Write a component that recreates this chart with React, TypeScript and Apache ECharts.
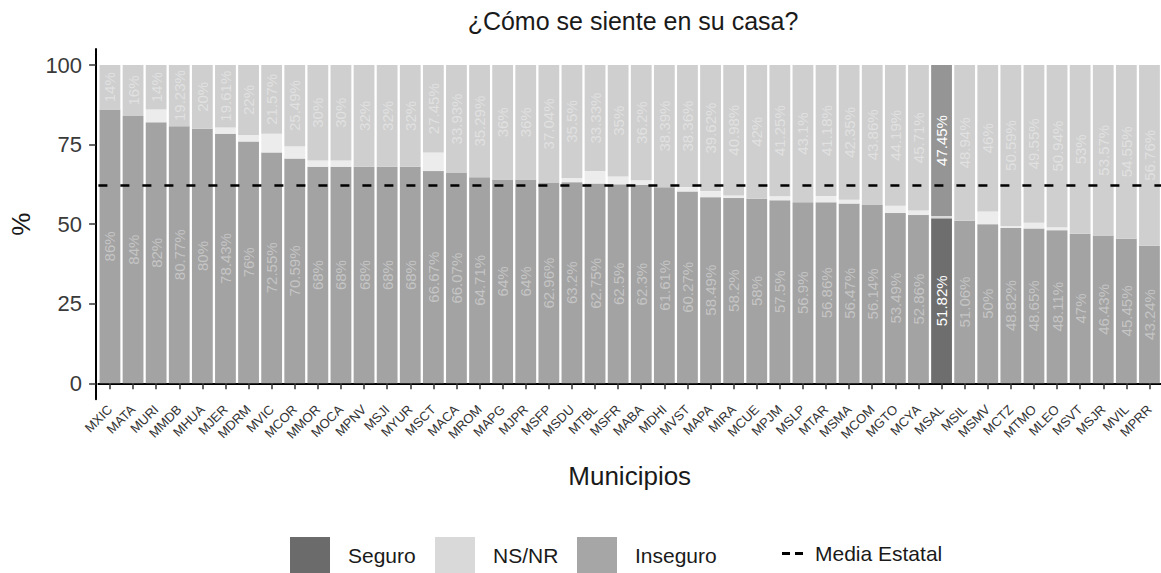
import React, { useEffect, useRef } from 'react';
import * as echarts from 'echarts';

const CATS = ['MXIC','MATA','MURI','MMDB','MHUA','MJER','MDRM','MVIC','MCOR','MMOR','MOCA','MPNV','MSJI','MYUR','MSCT','MACA','MROM','MAPG','MJPR','MSFP','MSDU','MTBL','MSFR','MABA','MDHI','MVST','MAPA','MIRA','MCUE','MPJM','MSLP','MTAR','MSMA','MCOM','MGTO','MCYA','MSAL','MSIL','MSMV','MCTZ','MTMO','MLEO','MSVT','MSJR','MVIL','MPRR'];
const SEGURO = [86,84,82,80.77,80,78.43,76,72.55,70.59,68,68,68,68,68,66.67,66.07,64.71,64,64,62.96,63.2,62.75,62.5,62.3,61.61,60.27,58.49,58.2,58,57.5,56.9,56.86,56.47,56.14,53.49,52.86,51.82,51.06,50,48.82,48.65,48.11,47,46.43,45.45,43.24];
const NSNR = [0,0,4,0,0,1.96,2,5.88,3.92,2,2,0,0,0,5.88,0,0,0,0,0,1.3,3.92,2.5,1.5,0,1.37,1.89,0.82,0,1.25,0,1.96,1.18,0,2.33,1.43,0.73,0,4,0.59,1.8,0.94,0,0,0,0];
const INSEGURO = [14,16,14,19.23,20,19.61,22,21.57,25.49,30,30,32,32,32,27.45,33.93,35.29,36,36,37.04,35.5,33.33,35,36.2,38.39,38.36,39.62,40.98,42,41.25,43.1,41.18,42.35,43.86,44.19,45.71,47.45,48.94,46,50.59,49.55,50.94,53,53.57,54.55,56.76];
const MEDIA = 62.3;
const HIGHLIGHT = 'MSAL';
const Y_TICKS = [0, 25, 50, 75, 100];

const FONT = '"Liberation Sans", Arial, Helvetica, sans-serif';

export default function App() {
  const ref = useRef<HTMLDivElement>(null);
  useEffect(() => {
    document.body.style.margin = '0';
    const chart = echarts.init(ref.current!, null, { renderer: 'svg' });

    const mk = (vals: number[], color: string, hiColor: string, withLabel: boolean) =>
      vals.map((v, i) => {
        const hi = CATS[i] === HIGHLIGHT;
        return {
          value: v,
          itemStyle: { color: hi ? hiColor : color },
          label: {
            show: withLabel && v >= 3,
            color: hi ? '#ffffff' : 'rgba(255,255,255,0.38)',
          },
        };
      });

    const labelBase = {
      position: 'inside',
      rotate: 90,
      fontSize: 15,
      fontFamily: FONT,
      formatter: (p: any) => `${p.value}%`,
    };

    const legendText = { fontSize: 21, color: '#1a1a1a', fontFamily: FONT, padding: [0, 0, 0, 13] };
    const legendBase = {
      top: 537,
      padding: 0,
      itemWidth: 40,
      itemHeight: 36,
      icon: 'rect',
      selectedMode: false,
      textStyle: legendText,
    };

    chart.setOption({
      animation: false,
      backgroundColor: '#ffffff',
      textStyle: { fontFamily: FONT },
      title: {
        text: '¿Cómo se siente en su casa?',
        left: 633,
        top: 8,
        textAlign: 'center',
        padding: 0,
        textStyle: { fontSize: 25, fontWeight: 'normal', color: '#1a1a1a', fontFamily: FONT },
      },
      legend: [
        { ...legendBase, left: 290, data: ['Seguro'] },
        { ...legendBase, left: 435, data: ['NS/NR'] },
        { ...legendBase, left: 577, data: ['Inseguro'] },
        {
          top: 543,
          left: 782,
          padding: 0,
          itemWidth: 21,
          itemHeight: 3,
          selectedMode: false,
          textStyle: { ...legendText, padding: [0, 0, 0, 7] },
          data: [{ name: 'Media Estatal', icon: 'path://M0,0H8V3H0Z M13,0H21V3H13Z', itemStyle: { color: '#000000' } }],
        },
      ],
      grid: { left: 98.4, top: 49.1, width: 1066.3, height: 350.1, containLabel: false },
      xAxis: {
        type: 'category',
        data: CATS,
        boundaryGap: true,
        name: 'Municipios',
        nameLocation: 'middle',
        nameGap: 64,
        nameTextStyle: { fontSize: 26, color: '#1a1a1a', fontFamily: FONT },
        splitLine: { show: false },
        axisLine: { show: true, lineStyle: { color: '#000000', width: 2 } },
        axisTick: { show: true, alignWithLabel: true, interval: 0, length: 6, lineStyle: { color: '#333333', width: 1.5 } },
        axisLabel: {
          interval: 0,
          rotate: 45,
          margin: 8,
          fontSize: 13,
          color: '#333333',
          fontFamily: FONT,
        },
      },
      yAxis: {
        type: 'value',
        min: -5,
        max: 105,
        offset: 2.3,
        name: '%',
        nameLocation: 'middle',
        nameGap: 60,
        nameTextStyle: { fontSize: 26, color: '#1a1a1a', fontFamily: FONT },
        splitLine: { show: false },
        axisLine: { show: true, lineStyle: { color: '#000000', width: 2 } },
        axisTick: { show: true, length: 7, lineStyle: { color: '#333333', width: 1.5 }, customValues: Y_TICKS },
        axisLabel: { customValues: Y_TICKS, margin: 14, fontSize: 22, color: '#3a3a3a', fontFamily: FONT },
      },
      series: [
        {
          name: 'Seguro',
          type: 'bar',
          stack: 'total',
          barWidth: 20.8,
          itemStyle: { color: '#6b6b6b' },
          label: labelBase,
          data: mk(SEGURO, '#a3a3a3', '#6e6e6e', true),
        },
        {
          name: 'NS/NR',
          type: 'bar',
          stack: 'total',
          barWidth: 20.8,
          itemStyle: { color: '#d9d9d9' },
          label: { ...labelBase, show: false },
          data: mk(NSNR, '#ececec', '#d9d9d9', false),
        },
        {
          name: 'Inseguro',
          type: 'bar',
          stack: 'total',
          barWidth: 20.8,
          itemStyle: { color: '#a6a6a6' },
          label: labelBase,
          data: mk(INSEGURO, '#cfcfcf', '#959595', true),
        },
        {
          name: 'Media Estatal',
          type: 'line',
          data: [],
          itemStyle: { color: '#000000' },
          lineStyle: { color: '#000000' },
          markLine: {
            silent: true,
            symbol: ['none', 'none'],
            label: { show: false },
            lineStyle: { color: '#000000', width: 2.5, type: [9, 13] },
            data: [{ yAxis: MEDIA }],
          },
        },
      ],
    });
    return () => chart.dispose();
  }, []);
  return <div ref={ref} style={{ width: 1161, height: 573 }} />;
}
